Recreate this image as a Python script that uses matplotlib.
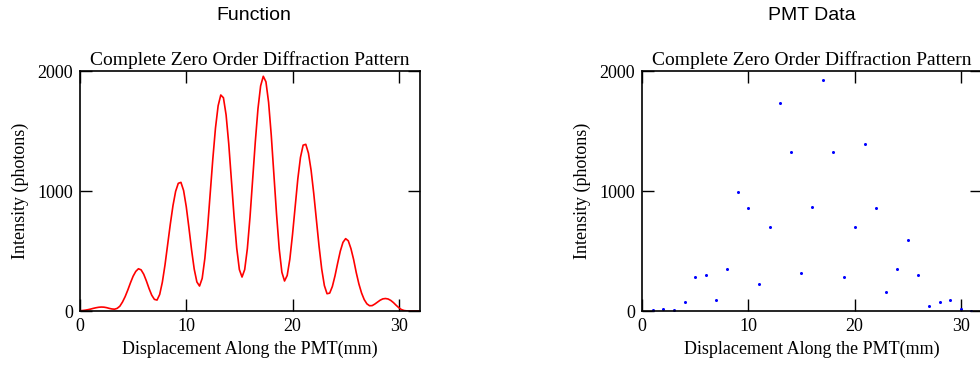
import numpy as np
import matplotlib
matplotlib.use("Agg")
import matplotlib.pyplot as plt

# ---- data ----
func_x = np.linspace(0, 32, 129)
func_y = [3, 4, 7, 11, 16, 22, 27, 31, 33, 32, 28, 22, 17, 15, 22, 40,
          75, 120, 175, 235, 290, 330, 352, 343, 306, 250, 187, 132, 97, 91, 138, 240,
          384, 552, 724, 878, 997, 1064, 1072, 1004, 870, 695, 510, 349, 242, 208, 272, 438,
          683, 972, 1266, 1524, 1710, 1800, 1777, 1634, 1393, 1095, 788, 524, 345, 283, 345, 519,
          782, 1094, 1411, 1685, 1876, 1956, 1910, 1739, 1466, 1138, 805, 518, 323, 250, 296, 432,
          636, 872, 1100, 1280, 1382, 1389, 1315, 1173, 979, 758, 539, 349, 212, 144, 149, 204,
          293, 399, 499, 572, 603, 585, 520, 430, 320, 225, 150, 95, 60, 44, 45, 58,
          74, 90, 101, 104, 100, 88, 70, 48, 28, 12, 4, 1, 0, 0, 0, 0, 0]

pmt_x = list(range(1, 32))
pmt_y = [10, 20, 10, 72, 283, 303, 92, 347, 989, 858, 225, 703, 1731, 1322, 314, 867,
         1922, 1322, 283, 703, 1394, 858, 158, 347, 594, 303, 44, 72, 89, 19, 3]

xticks = [0, 10, 20, 30]
yticks = [0, 1000, 2000]
panel_headers = ["Function", "PMT Data"]
inner_title = "Complete Zero Order Diffraction Pattern"
xlabel = "Displacement Along the PMT(mm)"
ylabel = "Intensity (photons)"

# ---- layout ----
W, H = 980, 366
fig = plt.figure(figsize=(W / 100, H / 100), dpi=100)
serif = "Liberation Serif"
sans = "Liberation Sans"

def make_axes(left_px):
    ax = fig.add_axes([left_px / W, (H - 311) / H, 340 / W, 240 / H])
    ax.set_xlim(0, 32)
    ax.set_ylim(0, 2000)
    ax.set_xticks(xticks)
    ax.set_yticks(yticks)
    ax.tick_params(direction="in", length=8.6, width=1.0, top=True, right=True,
                   labelsize=13, pad=5)
    for lab in ax.get_xticklabels() + ax.get_yticklabels():
        lab.set_family(serif)
    for s in ax.spines.values():
        s.set_linewidth(1.2)
    ax.set_title(inner_title, family=serif, fontsize=14, pad=4)
    ax.set_xlabel(xlabel, family=serif, fontsize=13, labelpad=4)
    ax.set_ylabel(ylabel, family=serif, fontsize=13, labelpad=6)
    return ax

ax1 = make_axes(80)
ax1.plot(func_x, func_y, color="#ff0000", linewidth=1.2)

ax2 = make_axes(642)
ax2.plot(pmt_x, pmt_y, linestyle="none", marker="o", markersize=2.2,
         markerfacecolor="#0000ff", markeredgewidth=0)

fig.text(254 / W, 1 - 16 / H, panel_headers[0], family=sans, fontsize=14,
         ha="center", va="center")
fig.text(812 / W, 1 - 16 / H, panel_headers[1], family=sans, fontsize=14,
         ha="center", va="center")

fig.savefig("out.png", dpi=100)
